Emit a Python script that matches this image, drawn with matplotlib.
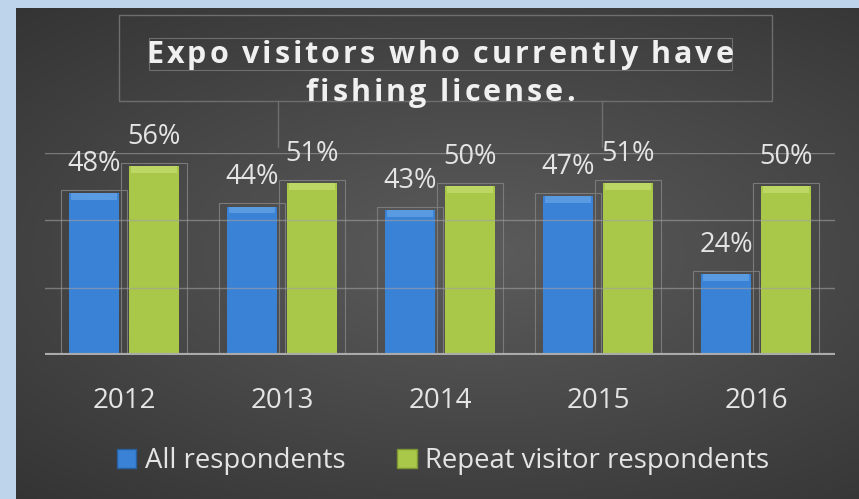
import numpy as np
import matplotlib.pyplot as plt
from matplotlib.patches import Rectangle
from matplotlib.lines import Line2D
from matplotlib.textpath import TextPath
from matplotlib.font_manager import FontProperties

years = ['2012', '2013', '2014', '2015', '2016']
all_resp = [0.48, 0.44, 0.43, 0.47, 0.24]
repeat_resp = [0.56, 0.51, 0.50, 0.51, 0.50]
series_names = ['All respondents', 'Repeat visitor respondents']
title_lines = ['Expo visitors who currently have', 'fishing license.']

blue = '#3a82d6'
blue_top = '#8cc0f0'
green = '#a9c84a'
green_top = '#dcef8c'
txt = '#e4e4e4'
font = 'Open Sans'

W, H = 859, 499
fig = plt.figure(figsize=(W / 100, H / 100), dpi=100)
fig.patch.set_facecolor('#bdd4ea')

# dark slide panel with a soft radial highlight
bg = fig.add_axes([16 / W, 0, (W - 16) / W, (H - 8) / H])
yy, xx = np.mgrid[0:1:300j, 0:1:500j]
r = np.sqrt(((xx - 0.55) / 0.9) ** 2 + ((yy - 0.5) / 0.75) ** 2)
shade = np.clip(1 - r, 0, 1)
lo = np.array([0x30, 0x30, 0x30]) / 255
hi = np.array([0x5c, 0x5c, 0x5c]) / 255
img = lo + (hi - lo) * shade[..., None]
bg.imshow(img, aspect='auto', extent=[0, 1, 0, 1], origin='lower')
bg.set_axis_off()

# plot area in pixel terms
def fx(px):
    return px / W

def fy(py):
    return (H - py) / H

ax = fig.add_axes([fx(45), fy(355), fx(835) - fx(45), fy(152.5) - fy(355)])
ax.set_facecolor('none')
ax.set_xlim(-0.5, len(years) - 0.5)
ax.set_ylim(0, 0.6)

x = np.arange(len(years))
off, bw = 0.19, 0.32
bevel = 0.02

for xs, vals, c, ct in [(x - off, all_resp, blue, blue_top),
                        (x + off, repeat_resp, green, green_top)]:
    vals = np.array(vals)
    ax.bar(xs, vals, width=bw, color=c, zorder=2)
    ax.bar(xs, bevel, bottom=vals - bevel, width=bw * 0.9, color=ct,
           alpha=0.4, zorder=3)
    ax.bar(xs, vals + 0.009, width=0.42, facecolor='none',
           edgecolor='#7a7a7a', lw=0.8, zorder=1)
    for xi, v in zip(xs, vals):
        ax.annotate(f'{v * 100:.0f}%', (xi, v), xytext=(0, 11),
                    textcoords='offset points', ha='center', va='bottom',
                    fontsize=19.5, color=txt, family=font, zorder=5)

for g in [0.2, 0.4, 0.6]:
    ax.axhline(g, color='#a0a0a0', lw=1, alpha=0.6, zorder=4)
ax.axhline(0, color='#ababab', lw=3, zorder=4)

for s in ax.spines.values():
    s.set_visible(False)
ax.set_yticks([])
ax.set_xticks(x)
ax.set_xticklabels(years, fontsize=20, color=txt, family=font)
ax.tick_params(axis='x', length=0, pad=23)


# title with wide letter spacing, placed one glyph at a time
title_fp = FontProperties(family=font, weight='bold', size=22)
px_per_pt = 100 / 72


def advance(t):
    # advance width of t in pixels, measured against a trailing bar glyph
    if not t:
        return 0.0
    a = TextPath((0, 0), t + '|', prop=title_fp).get_extents().x1
    b = TextPath((0, 0), '|', prop=title_fp).get_extents().x1
    return (a - b) * px_per_pt


def spaced_text(s, cx, base_y, track):
    full = advance(s) + track * (len(s) - 1)
    x0 = cx - full / 2
    for i, ch in enumerate(s):
        if ch == ' ':
            continue
        px = x0 + advance(s[:i]) + track * i
        fig.text(fx(px), fy(base_y), ch, ha='left', va='baseline',
                 fontproperties=title_fp, color='#f0f0f0')


spaced_text(title_lines[0], 440, 63, 2.9)
spaced_text(title_lines[1], 440, 101, 2.9)

frame = '#6e6e6e'
fig.add_artist(Rectangle((fx(119), fy(101)), fx(772) - fx(119), fy(15) - fy(101),
                         transform=fig.transFigure, fill=False,
                         edgecolor=frame, lw=1))
fig.add_artist(Rectangle((fx(149), fy(70)), fx(732) - fx(149), fy(38) - fy(70),
                         transform=fig.transFigure, fill=False,
                         edgecolor=frame, lw=0.8))
for px_ in [278, 602]:
    fig.add_artist(Line2D([fx(px_), fx(px_)], [fy(101), fy(147)],
                          transform=fig.transFigure, color=frame, lw=1))

handles = [Rectangle((0, 0), 1, 1, facecolor=blue, edgecolor='#2a5f9e'),
           Rectangle((0, 0), 1, 1, facecolor=green, edgecolor='#7d9632')]
fig.legend(handles, series_names, loc='center', bbox_to_anchor=(fx(443), fy(461)),
           ncol=2, frameon=False, handlelength=0.7, handleheight=0.7,
           handletextpad=0.3, columnspacing=1.9,
           prop={'family': font, 'size': 19.8}, labelcolor=txt)

fig.savefig('out.png', dpi=100, facecolor=fig.get_facecolor())
